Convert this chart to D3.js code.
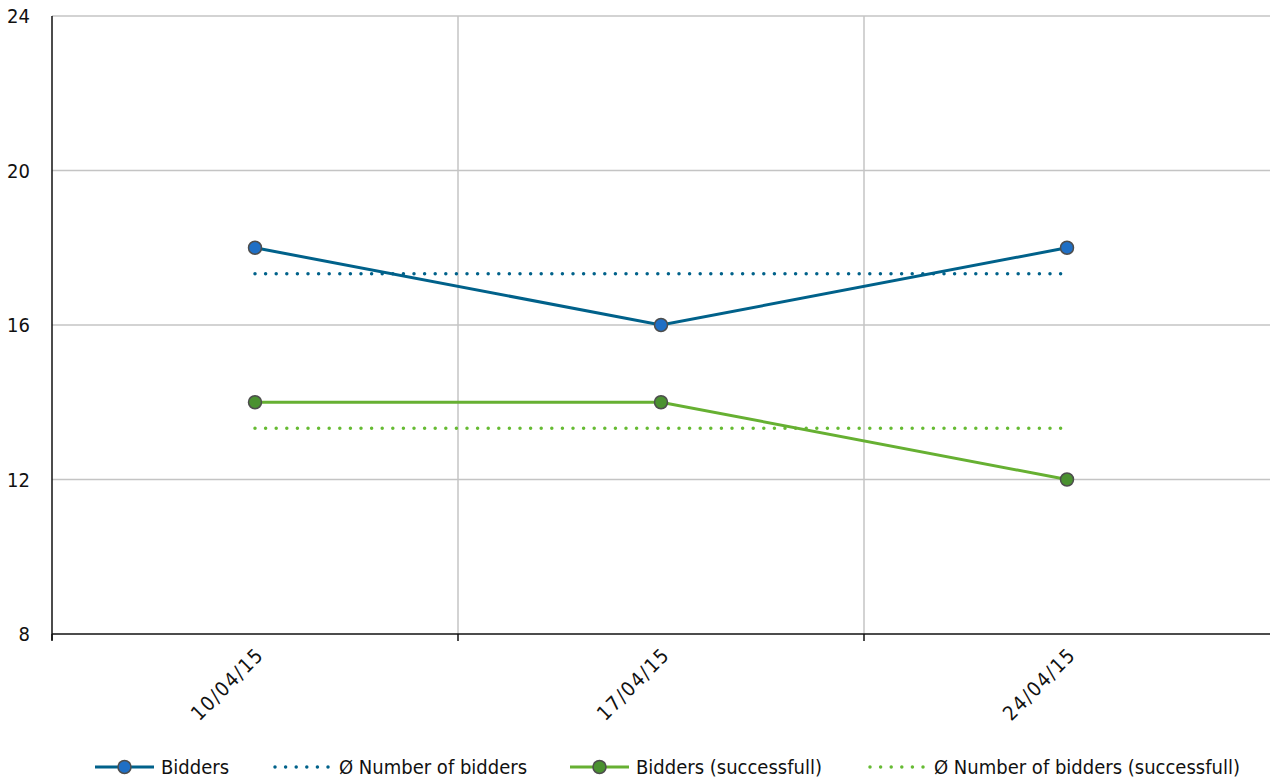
<!DOCTYPE html>
<html>
<head>
  <meta charset="UTF-8">
  <style>
    body { margin: 0; background: #fff; }
    svg text { font-family: "DejaVu Sans Condensed", "Liberation Sans Narrow", sans-serif; fill: #111; }
  </style>
</head>
<body>
<svg></svg>
<script src="https://d3js.org/d3.v7.min.js"></script>
<script>

let width = 1270, height = 780;

// data
let dates = ["10/04/15", "17/04/15", "24/04/15"];
let bidders = [18, 16, 18];
let successful = [14, 14, 12];
let avgBidders = 17.33;
let avgSuccessful = 13.33;
let yTicks = [8, 12, 16, 20, 24];

let margin = {top: 16, right: 0, bottom: 146, left: 52};

let svg = d3.select("svg")
    .attr("width", width)
    .attr("height", height)

let x = d3.scaleBand()
    .domain(dates)
    .range([margin.left, width - margin.right]);

let y = d3.scaleLinear()
    .domain([8, 24])
    .range([height - margin.bottom, margin.top]);

// grid
svg.append("g")
    .selectAll("line")
    .data(yTicks.filter(d => d > 8))
    .enter()
    .append("line")
    .attr("x1", margin.left)
    .attr("x2", width - margin.right)
    .attr("y1", d => y(d))
    .attr("y2", d => y(d))
    .style("stroke", "#c4c4c4")
    .style("stroke-width", 1.5)

svg.append("g")
    .selectAll("line")
    .data(dates.slice(1))
    .enter()
    .append("line")
    .attr("x1", d => x(d))
    .attr("x2", d => x(d))
    .attr("y1", margin.top)
    .attr("y2", y(8))
    .style("stroke", "#c4c4c4")
    .style("stroke-width", 1.5)

// axes
let gx = svg.append("g")
    .attr("transform", "translate(0," + y(8) + ")")
// band boundary ticks
gx.selectAll("line.bt")
    .data(dates.map(d => x(d)))
    .enter()
    .append("line")
    .attr("x1", d => d).attr("x2", d => d)
    .attr("y1", 0).attr("y2", 7)
    .style("stroke", "#111").style("stroke-width", 1.5)
gx.append("line")
    .attr("x1", margin.left).attr("x2", width - margin.right)
    .style("stroke", "#111").style("stroke-width", 1.5)

gx.selectAll("text.lbl")
    .data(dates)
    .enter()
    .append("text")
    .attr("text-anchor", "end")
    .attr("transform", d => "translate(" + (x(d) + x.bandwidth() / 2 + 10) + ",22) rotate(-45)")
    .style("font-size", "20px")
    .style("letter-spacing", "1.5px")
    .text(d => d)

let gy = svg.append("g")
    .attr("transform", "translate(" + margin.left + ",0)")
gy.append("line")
    .attr("y1", margin.top).attr("y2", y(8) + 6)
    .style("stroke", "#111").style("stroke-width", 1.5)
gy.selectAll("text")
    .data(yTicks)
    .enter()
    .append("text")
    .attr("x", -22)
    .attr("y", d => y(d) + 7)
    .attr("text-anchor", "end")
    .style("font-size", "20px")
    .text(d => d)

let cx = d => x(d) + x.bandwidth() / 2;

let line = d3.line()
    .x((d, i) => cx(dates[i]))
    .y(d => y(d));

function drawAvg(v, color) {
    svg.append("line")
        .attr("x1", cx(dates[0]))
        .attr("x2", cx(dates[dates.length - 1]))
        .attr("y1", y(v))
        .attr("y2", y(v))
        .style("stroke", color)
        .style("stroke-width", 3.5)
        .style("stroke-linecap", "round")
        .style("stroke-dasharray", "0 10.6")
}

function drawSeries(values, color, fill) {
    svg.append("path")
        .datum(values)
        .attr("d", line)
        .style("fill", "none")
        .style("stroke", color)
        .style("stroke-width", 3)
    svg.append("g")
        .selectAll("circle")
        .data(values)
        .enter()
        .append("circle")
        .attr("cx", (d, i) => cx(dates[i]))
        .attr("cy", d => y(d))
        .attr("r", 6.5)
        .style("fill", fill)
        .style("stroke", "#4d4d4d")
        .style("stroke-width", 1.5)
}

drawAvg(avgBidders, "#00618a");
drawAvg(avgSuccessful, "#66bb33");
drawSeries(bidders, "#00618a", "#1f6fc5");
drawSeries(successful, "#66b032", "#4a9130");

// legend
let legendItems = [
    {label: "Bidders", color: "#00618a", fill: "#1f6fc5", dotted: false, x: 95},
    {label: "Ø Number of bidders", color: "#00618a", dotted: true, x: 273},
    {label: "Bidders (successfull)", color: "#66b032", fill: "#4a9130", dotted: false, x: 570},
    {label: "Ø Number of bidders (successfull)", color: "#66bb33", dotted: true, x: 868}
];

let lg = svg.append("g").attr("transform", "translate(0,767)");
legendItems.forEach(function(it) {
    let g = lg.append("g").attr("transform", "translate(" + it.x + ",0)");
    let l = g.append("line")
        .attr("x1", it.dotted ? 2 : 0).attr("x2", 59)
        .style("stroke", it.color)
        .style("stroke-width", it.dotted ? 3.5 : 3)
    if (it.dotted) {
        l.style("stroke-linecap", "round").style("stroke-dasharray", "0 10.6")
    } else {
        g.append("circle")
            .attr("cx", 29.5).attr("r", 6.5)
            .style("fill", it.fill)
            .style("stroke", "#4d4d4d")
            .style("stroke-width", 1.5)
    }
    g.append("text")
        .attr("x", 66)
        .attr("y", 7)
        .style("font-size", "20px")
        .text(it.label)
});

</script>
</body>
</html>
